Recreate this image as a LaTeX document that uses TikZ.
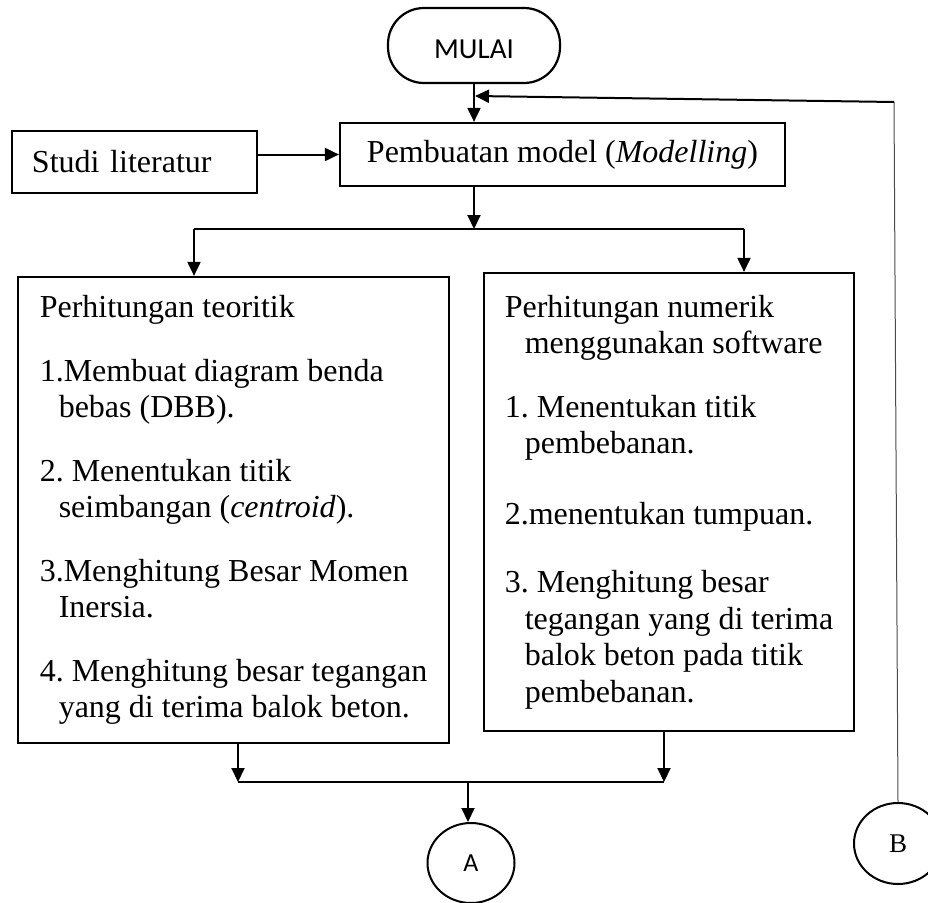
\documentclass[tikz,border=0pt]{standalone}
\usepackage{fontspec}
\setmainfont{Liberation Serif}
\newfontfamily\calibri{Carlito}
\usetikzlibrary{arrows.meta,shapes.geometric}

\begin{document}
\begin{tikzpicture}[x=1bp,y=-1bp,
  box/.style={draw,line width=2.2bp,inner sep=0pt},
  arr/.style={line width=2bp,-{Triangle[length=14bp,width=13bp]}},
  txt/.style={font=\fontsize{32bp}{36.5bp}\selectfont\frenchspacing}]
\useasboundingbox (0,0) rectangle (928,903);
% Start and model
\node[box,rounded corners=36bp,minimum width=172bp,minimum height=75bp,text height=27bp,font=\calibri\fontsize{29bp}{33bp}\selectfont] (mulai) at (474,45.5) {MULAI};
\node[box,txt,minimum width=445bp,minimum height=63bp] (model) at (562.5,154.5) {Pembuatan model (\textit{Modelling})};
\node[box,txt,minimum width=245bp,minimum height=62bp,text width=205bp] (studi) at (134.5,162) {Studi literatur\hfill};
% Calculation boxes
\node[box,txt,minimum width=431bp,minimum height=466bp,align=left] (teori) at (233.5,510) {Perhitungan teoritik\\[27bp]
1.Membuat diagram benda\\ \hspace*{19bp}bebas (DBB).\\[27bp]
2. Menentukan titik\\ \hspace*{19bp}seimbangan (\textit{centroid}).\\[27bp]
3.Menghitung Besar Momen\\ \hspace*{19bp}Inersia.\\[27bp]
4. Menghitung besar tegangan\\ \hspace*{19bp}yang di terima balok beton.};
\node[box,txt,minimum width=370bp,minimum height=458bp,align=left] (numerik) at (669,502) {Perhitungan numerik\\ \hspace*{20bp}menggunakan software\\[27bp]
1. Menentukan titik\\ \hspace*{20bp}pembebanan.\\[34bp]
2.menentukan tumpuan.\\[32bp]
3. Menghitung besar\\ \hspace*{20bp}tegangan yang di terima\\ \hspace*{20bp}balok beton pada titik\\ \hspace*{20bp}pembebanan.};
% Connectors
\node[draw,ellipse,line width=2bp,minimum width=87bp,minimum height=80bp,inner sep=0pt,font=\calibri\fontsize{26bp}{30bp}\selectfont] (A) at (471,863) {A};
\node[draw,ellipse,line width=2bp,minimum width=88bp,minimum height=81bp,inner sep=0pt,font=\fontsize{27bp}{30bp}\selectfont] (B) at (898,843.5) {B};
\coordinate (split) at (474,229);
\coordinate (splitL) at (194,229);
\coordinate (splitR) at (744,229);
\coordinate (joinL) at (238,782);
\coordinate (joinR) at (664,782);
\coordinate (joinA) at (468,782);
\coordinate (loopTop) at (894,102);
\coordinate (loopEnd) at (475,96);
% Arrows
\draw[arr] (mulai.south) -- (mulai.south |- model.north);
\draw[arr] (studi.east |- model.west) -- (model.west);
\draw[arr] (split |- model.south) -- (split);
\draw[line width=1.2bp] (splitL) -- (splitR);
\draw[arr] (splitL) -- (splitL |- teori.north);
\draw[arr] (splitR) -- (splitR |- numerik.north);
\draw[arr] (joinL |- teori.south) -- (joinL);
\draw[arr] (joinR |- numerik.south) -- (joinR);
\draw[line width=2bp] (joinL) -- (joinR);
\draw[arr] (joinA) -- (joinA |- A.north);
% Back from B
\draw[line width=1bp,black!70] (B.north) -- (loopTop);
\draw[arr] (loopTop) -- (loopEnd);
\end{tikzpicture}
\end{document}
